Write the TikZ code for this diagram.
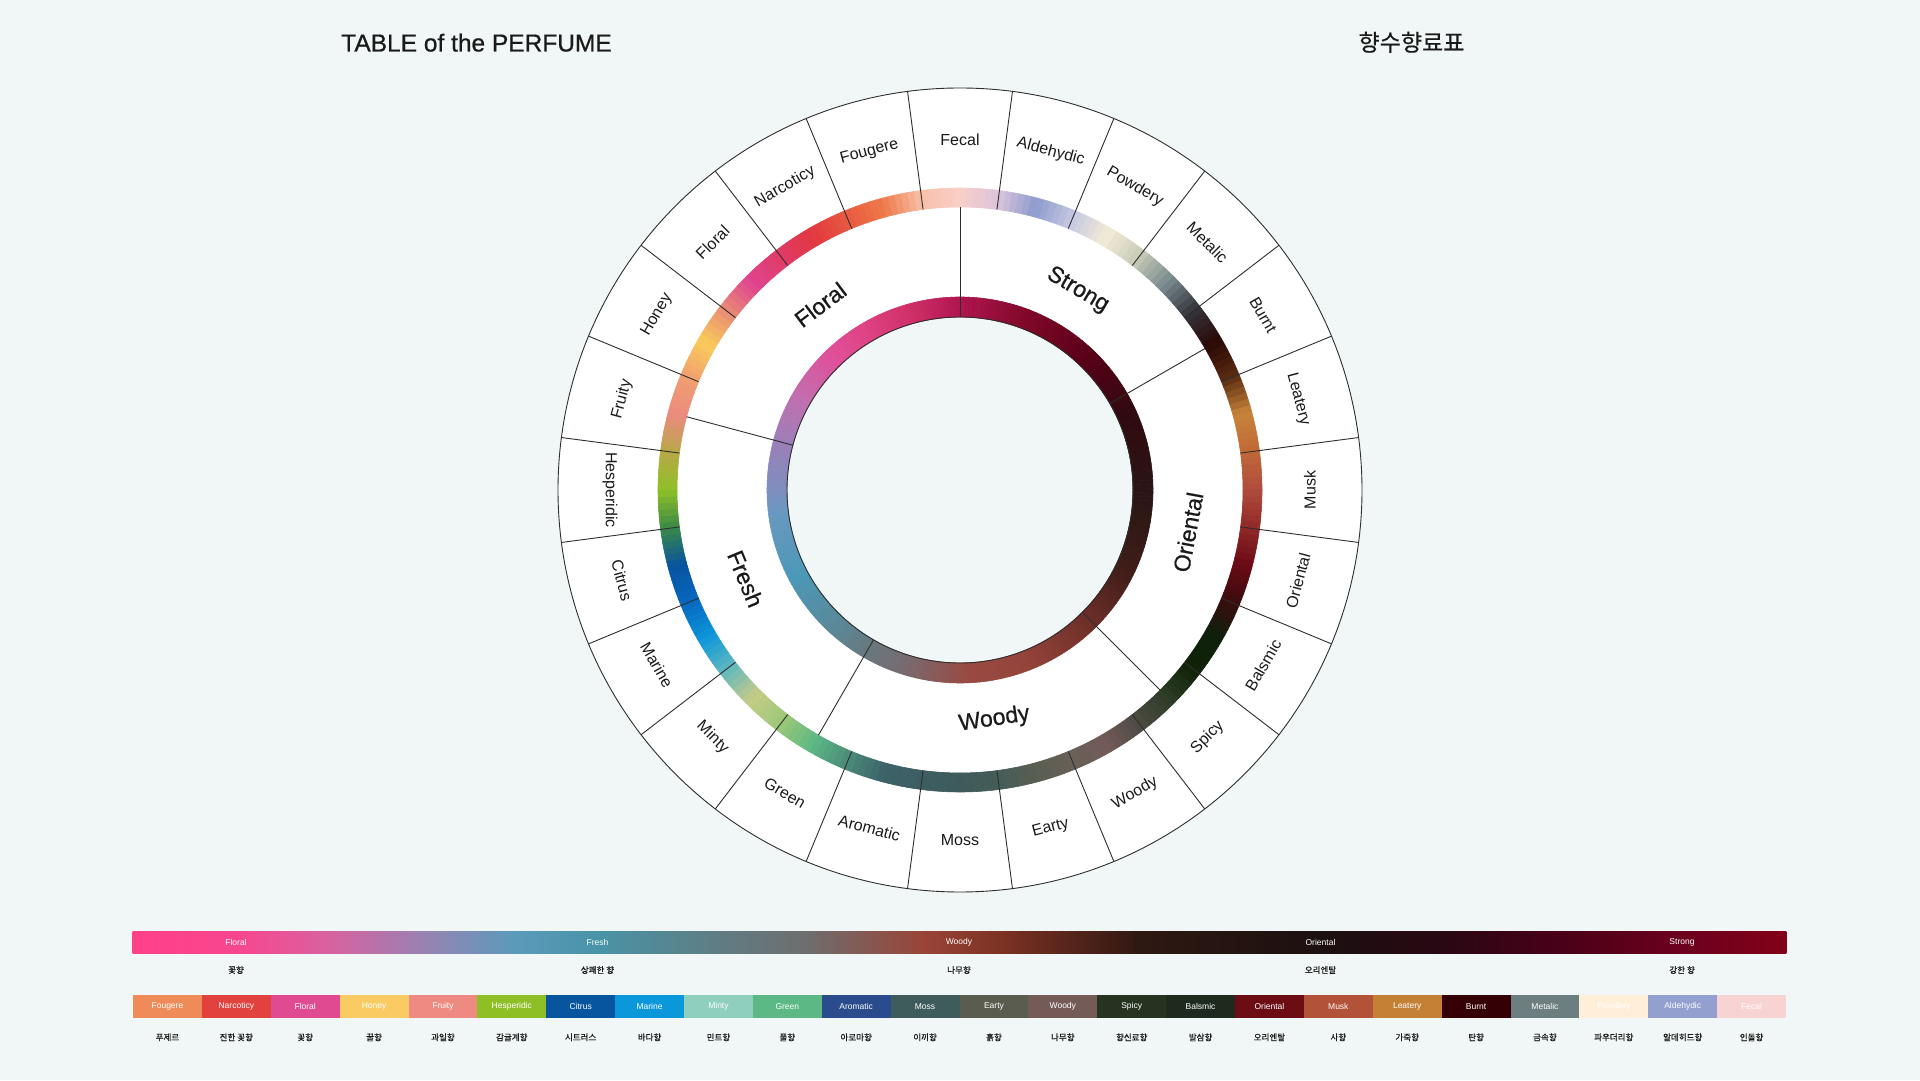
\documentclass[tikz,border=0pt]{standalone}
\usepackage{fontspec}
\setmainfont{Liberation Sans}
\newfontfamily\medfont{Liberation Sans}[FakeBold=0.7]
\newfontfamily\kr{Noto Sans CJK KR}[FakeBold=0.8]
\newfontfamily\krt{Noto Sans CJK KR}[FakeBold=0.6]
\definecolor{bgc}{HTML}{F0F7F6}
\definecolor{ln}{HTML}{2E2E2E}
\definecolor{txt}{HTML}{1A1A1A}
\newcommand{\bandseg}[6]{%
  \pgfmathtruncatemacro{\nslc}{max(3,round(abs(#4-#3)/1.25))}%
  \foreach \kk in {1,...,\nslc}{%
    \pgfmathsetmacro{\angA}{#3+(#4-#3)*(\kk-1)/\nslc}%
    \pgfmathsetmacro{\angB}{#3+(#4-#3)*\kk/\nslc}%
    \pgfmathtruncatemacro{\mixp}{round(100*(\kk-0.5)/\nslc)}%
    \filldraw[fill=#6!\mixp!#5, draw=#6!\mixp!#5, line width=0.6pt]
      (\angA:#1pt) arc[start angle=\angA, end angle=\angB, radius=#1pt]
      -- (\angB:#2pt) arc[start angle=\angB, end angle=\angA, radius=#2pt] -- cycle;
  }%
}
\tikzset{
  sep/.style={draw=ln, line width=0.9pt},
  outlbl/.style={font=\fontsize{16}{19}\selectfont, text=txt, inner sep=0pt},
  catlbl/.style={font=\medfont\fontsize{23}{27}\selectfont, text=txt, inner sep=0pt},
  barlbl/.style={font=\fontsize{8.5}{10}\selectfont, text=white, inner sep=0pt},
  krlbl/.style={font=\kr\fontsize{8.5}{10}\selectfont, text=txt, inner sep=0pt},
}
\begin{document}
\begin{tikzpicture}[x=1pt,y=1pt]
\useasboundingbox (0,0) rectangle (1920,1080);
\fill[bgc] (0,0) rectangle (1920,1080);

% titles
\node[anchor=base, font=\medfont\fontsize{24.5}{29}\selectfont, text=txt] (title) at (476.5,1028.5) {TABLE of the PERFUME};
\node[anchor=base, font=\krt\fontsize{23}{28}\selectfont, text=txt] (ktitle) at (1411.5,1029) {향수향료표};

% wheel
\begin{scope}[shift={(960,590)}]
  \fill[white] (0,0) circle[radius=402pt];
  \fill[bgc] (0,0) circle[radius=173pt];
  % outer gradient band
  \foreach \ang/\hx [remember=\ang as \angp (initially 90), remember=\hx as \hxp (initially F9CFC8)] in
   {82.5/DCC4DC, 75/8E9BCD, 67.5/C4C8E2, 60/F4EBD6, 52.5/C8CCB8, 45/7A8A8E, 37.5/34343C,
    30/2A0806, 22.5/5A2C12, 15/C8843A, 7.5/C06838, 0/B04C3C, -7.5/902828, -15/6A0A14,
    -22.5/3A0C0E, -30/0E200C, -37.5/102208, -45/2C3C26, -52.5/4C4A42, -60/725A58,
    -67.5/686058, -75/5A5E52, -82.5/445C58, -90/3E5A5A, -97.5/3C5E62, -105/3C6268,
    -112.5/4A8A78, -120/5CB884, -127.5/9CC878, -135/C6CC86, -142.5/60B8C0, -150/0C96DA,
    -157.5/0868C0, -165/0653A0, -172.5/3A8848, -180/8EC026, -187.5/B8A848, -195/EC8A80,
    -202.5/F0A070, -210/FACB5A, -217.5/E88C74, -225/E0448E, -232.5/E03A68, -240/E23840,
    -247.5/E85A40, -255/EE7A4A, -262.5/F8C0A8, -270/F9CFC8}{
    \edef\mydefs{\noexpand\definecolor{cA}{HTML}{\hxp}\noexpand\definecolor{cB}{HTML}{\hx}}\mydefs
    \bandseg{283}{302}{\angp}{\ang}{cA}{cB}
  }
  % inner gradient band
  \foreach \ang/\hx [remember=\ang as \angp (initially 90), remember=\hx as \hxp (initially B01550)] in
   {106/D03068, 120/DE4283, 134/E0509A, 151/C070B0, 166/9A80B8, 182/7A90C0, 187/6A98C0,
    208/4C98B8, 228/5A8898, 239/667A80, 253/786A70, 272/984A42, 291/94443A, 313/70302A,
    335/3E1C18, 358/2A1614, 384/300A10, 407/5A0018, 429/800828, 450/B01550}{
    \edef\mydefs{\noexpand\definecolor{cA}{HTML}{\hxp}\noexpand\definecolor{cB}{HTML}{\hx}}\mydefs
    \bandseg{173}{193}{\angp}{\ang}{cA}{cB}
  }
  % separators
  \foreach \ang in {97.5,112.5,...,442.5}
    \draw[sep] (\ang:283pt) -- (\ang:402pt);
  \foreach \ang in {90,30,-45,-120,165}
    \draw[sep] (\ang:173pt) -- (\ang:283pt);
  \draw[sep] (0,0) circle[radius=402pt];
  \draw[sep] (0,0) circle[radius=173pt];
  % outer labels
  \foreach \nm/\ang [count=\i] in {Fecal/90, Aldehydic/75, Powdery/60, Metalic/45, Burnt/30,
    Leatery/15, Musk/0, Oriental/-15, Balsmic/-30, Spicy/-45, Woody/-60, Earty/-75, Moss/-90,
    Aromatic/-105, Green/-120, Minty/-135, Marine/-150, Citrus/-165, Hesperidic/-180,
    Fruity/165, Honey/150, Floral/135, Narcoticy/120, Fougere/105}{
    \pgfmathsetmacro{\rot}{ifthenelse(and(\ang>0,\ang<180),\ang-90,\ang+90)}
    \node[outlbl, rotate=\rot] (ol\i) at (\ang:350pt) {\nm};
  }
  % category labels
  \foreach \nm/\ang [count=\i] in {Floral/127, Strong/59.5, Oriental/-10.5, Woody/-81.5, Fresh/-157.5}{
    \pgfmathsetmacro{\rot}{ifthenelse(and(\ang>0,\ang<180),\ang-90,\ang+90)}
    \node[catlbl, rotate=\rot] (cl\i) at (\ang:232pt) {\nm};
  }
\end{scope}

% top legend gradient bar
\foreach \xx/\hx [remember=\xx as \xp (initially 133), remember=\hx as \hxp (initially FF4088)] in
 {236/F8468E, 330/D862A0, 430/9484B4, 513/5C9ABA, 597/4894A8, 700/5C8088, 807/6E6E6E,
  923/9A4438, 1007/7A3022, 1140/2E1812, 1321/1C1010, 1440/280812, 1560/4A0018,
  1682/6C001E, 1786/820018}{
  \edef\mydefs{\noexpand\definecolor{cA}{HTML}{\hxp}\noexpand\definecolor{cB}{HTML}{\hx}}\mydefs
  \shade[left color=cA, right color=cB] (\xp-0.4,127) rectangle (\xx+0.4,149);
}
\foreach \nm/\kn [count=\i] in {Floral/꽃향, Fresh/상쾌한 향, Woody/나무향, Oriental/오리엔탈, Strong/강한 향}{
  \pgfmathsetmacro{\xc}{236+361.5*(\i-1)}
  \node[barlbl] (bl\i) at (\xc,138) {\nm};
  \node[krlbl] (bk\i) at (\xc,110) {\kn};
}

% bottom legend boxes
\foreach \nm/\hx/\kn [count=\i] in {Fougere/EF8A59/푸제르, Narcoticy/E2423E/진한 꽃향, Floral/E04A90/꽃향,
  Honey/FBCB63/꿀향, Fruity/EE8A82/과일향, Hesperidic/8EC026/감귤계향, Citrus/07559F/시트러스,
  Marine/0B98DB/바다향, Minty/8ECFBE/민트향, Green/5CB885/풀향, Aromatic/2A4C8C/아로마향,
  Moss/3F5C5C/이끼향, Earty/595C4E/흙향, Woody/745B58/나무향, Spicy/253320/향신료향,
  Balsmic/1F2A1E/발삼향, Oriental/6C0D14/오리엔탈, Musk/B25239/사향, Leatery/C48035/가죽향,
  Burnt/340005/탄향, Metalic/6D7E81/금속향, Powdery/FFEFD8/파우더리향, Aldehydic/929FCF/알데히드향,
  Fecal/F8D3D3/인돌향}{
  \edef\mydefs{\noexpand\definecolor{boxc}{HTML}{\hx}}\mydefs
  \pgfmathsetmacro{\xa}{133+68.875*(\i-1)}
  \pgfmathsetmacro{\xb}{133+68.875*\i}
  \pgfmathsetmacro{\xc}{133+68.875*(\i-0.5)}
  \fill[boxc] (\xa,62) rectangle (\xb+0.3,85);
  \node[barlbl] (sb\i) at (\xc,73.5) {\nm};
  \node[krlbl] (sk\i) at (\xc,42.7) {\kn};
}
\end{tikzpicture}
\end{document}
